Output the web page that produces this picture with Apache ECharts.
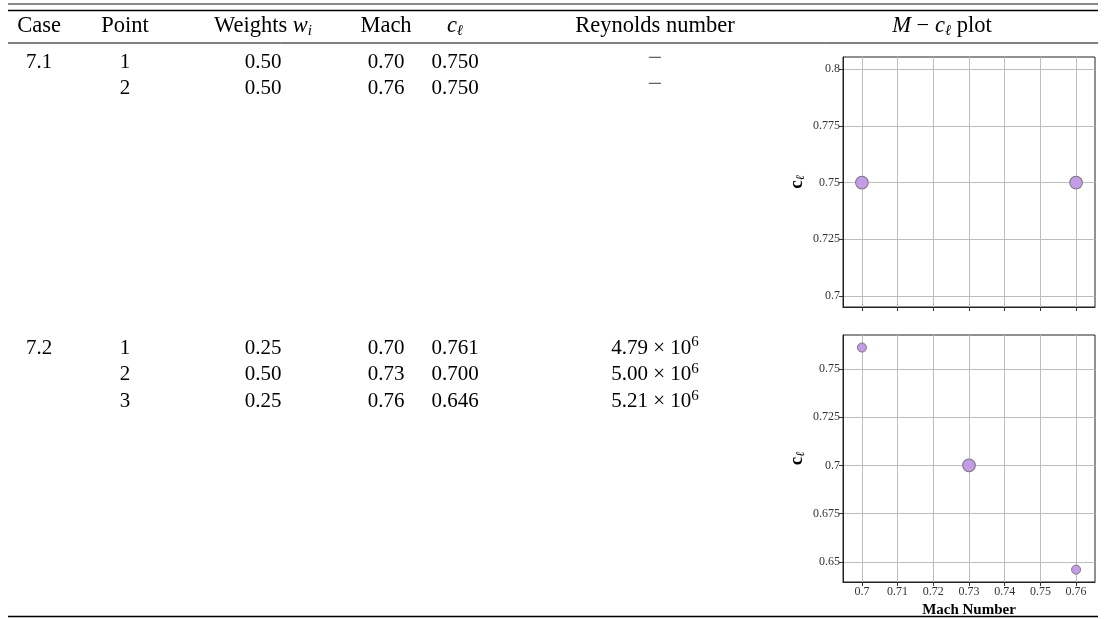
<!DOCTYPE html>
<html>
<head>
<meta charset="utf-8">
<script src="https://cdn.jsdelivr.net/npm/echarts@6/dist/echarts.min.js"></script>
<style>
html,body{margin:0;padding:0;background:#fff;}
#main{width:1105px;height:619px;}
</style>
</head>
<body>
<div id="main"></div>
<script>
// ---- data ----
const headers = ['Case', 'Point', 'Weights {it|w}{sub|i}', 'Mach', '{it|c}{sub|ℓ}', 'Reynolds number', '{it|M} − {it|c}{sub|ℓ} plot'];
const caseIds = ['7.1', '7.2'];
const case1Points = [1, 2];
const case1Weights = [0.50, 0.50];
const case1Mach = [0.70, 0.76];
const case1Cl = [0.750, 0.750];
const case1Re = [null, null];          // in units of 10^6
const case2Points = [1, 2, 3];
const case2Weights = [0.25, 0.50, 0.25];
const case2Mach = [0.70, 0.73, 0.76];
const case2Cl = [0.761, 0.700, 0.646];
const case2Re = [4.79, 5.00, 5.21];    // in units of 10^6
const machTicks = [0.70, 0.71, 0.72, 0.73, 0.74, 0.75, 0.76];
const cl1Ticks = [0.700, 0.725, 0.750, 0.775, 0.800];
const cl2Ticks = [0.650, 0.675, 0.700, 0.725, 0.750];

// ---- layout ----
const colX = [39, 125, 263, 386, 455, 655, 942];
const headerY = 26;
const caseTopY = [62, 348];
const rowStep = 26.6;
const FONT = '"Liberation Serif", "DejaVu Serif", serif';
function makeRich(fs) {
  return {
    n: {fontFamily: FONT, fontSize: fs, lineHeight: 26, fill: '#000', verticalAlign: 'middle'},
    it: {fontFamily: FONT, fontSize: fs, fontStyle: 'italic', lineHeight: 26, fill: '#000', verticalAlign: 'middle'},
    sub: {fontFamily: FONT, fontSize: 15, fontStyle: 'italic', lineHeight: 14, fill: '#000', verticalAlign: 'bottom'},
    sup: {fontFamily: FONT, fontSize: 15, lineHeight: 12, fill: '#000', verticalAlign: 'top'}
  };
}
const richBody = makeRich(21);
const richHead = makeRich(22.5);

function wrapPlain(s) {
  return s.replace(/(^|\})([^{}]+)(?=\{|$)/g, (m, a, b) => a + '{n|' + b + '}');
}
function txt(x, y, s, rich) {
  return {type: 'text', x: x, y: y, silent: true,
    style: {text: wrapPlain(s), align: 'center', verticalAlign: 'middle', rich: rich || richBody,
      fontFamily: FONT, fontSize: 21, fill: '#000'}};
}
function hline(y, w, color) {
  return {type: 'line', silent: true, shape: {x1: 8, y1: y, x2: 1098, y2: y},
    style: {stroke: color, lineWidth: w}};
}
const graphics = [];
graphics.push(hline(4, 2, '#888'));
graphics.push(hline(10.5, 1.3, '#000'));
graphics.push(hline(43, 1, '#000'));
graphics.push(hline(616.5, 1.3, '#000'));
headers.forEach((h, i) => graphics.push(txt(colX[i], headerY, h, richHead)));

const cases = [
  {pts: case1Points, w: case1Weights, m: case1Mach, c: case1Cl, re: case1Re},
  {pts: case2Points, w: case2Weights, m: case2Mach, c: case2Cl, re: case2Re}
];
cases.forEach((cs, ci) => {
  graphics.push(txt(colX[0], caseTopY[ci], caseIds[ci]));
  cs.pts.forEach((p, r) => {
    const y = caseTopY[ci] + r * rowStep;
    graphics.push(txt(colX[1], y, String(p)));
    graphics.push(txt(colX[2], y, cs.w[r].toFixed(2)));
    graphics.push(txt(colX[3], y, cs.m[r].toFixed(2)));
    graphics.push(txt(colX[4], y, cs.c[r].toFixed(3)));
    if (cs.re[r] == null) {
      graphics.push({type: 'text', x: colX[5], y: y - 3, silent: true,
        style: {text: '−', align: 'center', verticalAlign: 'middle', fontFamily: FONT, fontSize: 26, fill: '#666'}});
    } else {
      graphics.push(txt(colX[5], y, cs.re[r].toFixed(2) + ' × 10{sup|6}'));
    }
  });
});

function fmt(v) { return String(parseFloat(v.toFixed(3))); }
const tickLabelStyle = {fontFamily: FONT, fontSize: 12, color: '#333'};
const nameRich = {
  b: {fontFamily: FONT, fontSize: 19, fontWeight: 'bold', color: '#000'},
  s: {fontFamily: FONT, fontSize: 12, fontStyle: 'italic', color: '#000', padding: [7, 0, 0, 0]}
};

function xAx(gi, showLabels) {
  return {gridIndex: gi, type: 'value', min: 0.6947, max: 0.7653,
    axisLine: {show: true, onZero: false, lineStyle: {color: '#222', width: 1}},
    axisTick: {show: true, customValues: machTicks, length: 4, lineStyle: {color: '#333'}},
    axisLabel: {show: showLabels, customValues: machTicks, formatter: fmt, margin: 4, ...tickLabelStyle},
    splitLine: {show: true, lineStyle: {color: '#bdbdbd', width: 1}},
    name: showLabels ? 'Mach Number' : '', nameLocation: 'middle', nameGap: 21,
    nameTextStyle: {fontFamily: FONT, fontSize: 15, fontWeight: 'bold', color: '#000'}
  };
}
function yAx(gi, mn, mx, ticks) {
  return {gridIndex: gi, type: 'value', min: mn, max: mx,
    axisLine: {show: true, onZero: false, lineStyle: {color: '#222', width: 1}},
    axisTick: {show: true, customValues: ticks, length: 4, lineStyle: {color: '#333'}},
    axisLabel: {show: true, customValues: ticks, formatter: fmt, margin: 3, ...tickLabelStyle},
    splitLine: {show: true, lineStyle: {color: '#bdbdbd', width: 1}},
    name: '{b|c}{s|ℓ}', nameLocation: 'middle', nameRotate: 90, nameGap: 36,
    nameTextStyle: {rich: nameRich}
  };
}
const pointStyle = {color: '#c39be9', borderColor: '#777', borderWidth: 1, opacity: 1};
function sz(d) { return 18 * Math.sqrt(d[2]); }

const chart = echarts.init(document.getElementById('main'), null, {renderer: 'canvas'});
chart.setOption({
  animation: false,
  backgroundColor: '#fff',
  graphic: graphics,
  grid: [
    {left: 843, top: 57, width: 252, height: 250, show: true, borderColor: '#222', borderWidth: 1, backgroundColor: 'transparent'},
    {left: 843, top: 335, width: 252, height: 251, show: true, borderColor: '#222', borderWidth: 1, backgroundColor: 'transparent'}
  ],
  xAxis: [xAx(0, false), xAx(1, true)],
  yAxis: [yAx(0, 0.6952, 0.8053, cl1Ticks), yAx(1, 0.6396, 0.7675, cl2Ticks)],
  series: [
    {type: 'scatter', xAxisIndex: 0, yAxisIndex: 0, symbolSize: sz, itemStyle: pointStyle,
      data: case1Mach.map((m, i) => [m, case1Cl[i], case1Weights[i]])},
    {type: 'scatter', xAxisIndex: 1, yAxisIndex: 1, symbolSize: sz, itemStyle: pointStyle,
      data: case2Mach.map((m, i) => [m, case2Cl[i], case2Weights[i]])}
  ]
});
</script>
</body>
</html>
